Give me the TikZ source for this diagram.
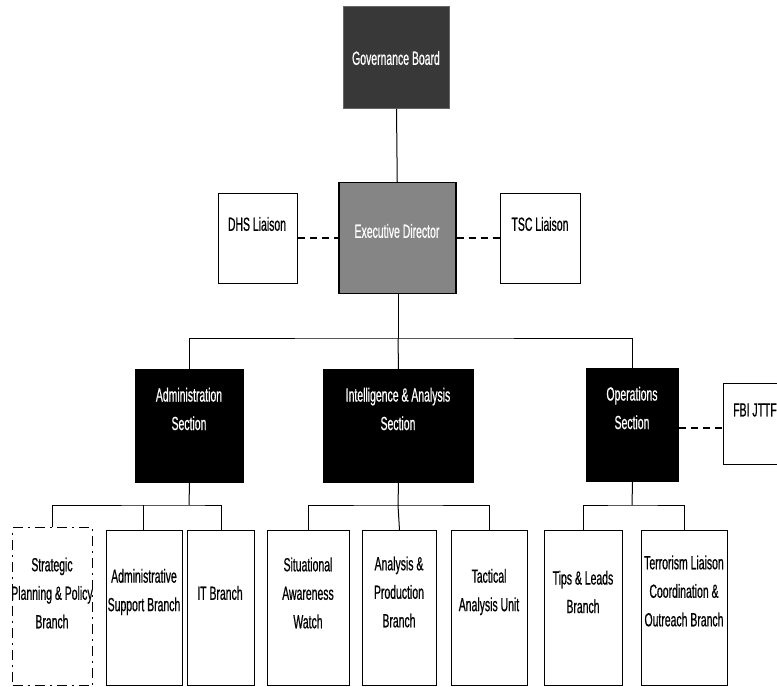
\documentclass[tikz,border=0pt]{standalone}
\usepackage{fontspec}
\setmainfont{Liberation Sans}[FakeStretch=0.55,FakeBold=0.6]
\begin{document}
\begin{tikzpicture}[x=1pt,y=-1pt,
  box/.style={draw=black, line width=1pt, fill=white, inner sep=0pt, anchor=north west},
  dbox/.style={box, dash pattern=on 10pt off 5pt on 2pt off 5pt},
  sect/.style={box, fill=black},
  lbl/.style={font=\fontsize{19}{28.5}\selectfont, align=center, inner sep=0pt},
  wlbl/.style={lbl, text=white},
  conn/.style={line width=1pt},
  dline/.style={line width=1.4pt, dash pattern=on 7pt off 5pt}]
\useasboundingbox (0,0) rectangle (777,687);
\clip (0,0) rectangle (777,687);
% top
\node[box, fill=black!78, draw=black!60, minimum width=106pt, minimum height=102pt] (gb) at (343,6) {};
\node[wlbl] (gbt) at (396,58) {Governance Board};
\node[box, fill=black!48, line width=1.5pt, minimum width=117pt, minimum height=111pt] (ed) at (338,182) {};
\node[wlbl] (edt) at (397,231) {Executive Director};
\node[box, minimum width=79pt, minimum height=90pt] (dhs) at (218,193) {};
\node[lbl] (dhst) at (257,224) {DHS Liaison};
\node[box, minimum width=80pt, minimum height=90pt] (tsc) at (500,193) {};
\node[lbl] (tsct) at (540,224) {TSC Liaison};
% sections
\node[sect, minimum width=108pt, minimum height=113pt] (adm) at (135,369) {};
\node[wlbl] (admt) at (189,409) {Administration\\Section};
\node[sect, minimum width=150pt, minimum height=113pt] (int) at (323,369) {};
\node[wlbl] (intt) at (398,409) {Intelligence \& Analysis\\Section};
\node[sect, minimum width=92pt, minimum height=113pt] (ops) at (586,368) {};
\node[wlbl] (opst) at (632,408) {Operations\\Section};
\node[box, minimum width=70pt, minimum height=81pt] (fbi) at (723,383) {};
\node[lbl] (fbit) at (755,410) {FBI JTTF};
% branches
\node[dbox, minimum width=80pt, minimum height=158pt] (sp) at (12,527) {};
\node[lbl] (spt) at (52,593) {Strategic\\Planning \& Policy\\Branch};
\node[box, minimum width=76pt, minimum height=155pt] (as) at (106,530) {};
\node[lbl] (ast) at (144,592) {Administrative\\Support Branch};
\node[box, minimum width=67pt, minimum height=155pt] (it) at (187,530) {};
\node[lbl] (itt) at (220,593) {IT Branch};
\node[box, minimum width=82pt, minimum height=155pt] (sa) at (267,530) {};
\node[lbl] (sat) at (308,593) {Situational\\Awareness\\Watch};
\node[box, minimum width=74pt, minimum height=155pt] (ap) at (362,530) {};
\node[lbl] (apt) at (399,592) {Analysis \&\\Production\\Branch};
\node[box, minimum width=76pt, minimum height=155pt] (ta) at (451,530) {};
\node[lbl] (tat) at (489,592) {Tactical\\Analysis Unit};
\node[box, minimum width=78pt, minimum height=155pt] (tl) at (544,530) {};
\node[lbl] (tlt) at (583,592) {Tips \& Leads\\Branch};
\node[box, minimum width=86pt, minimum height=155pt] (tr) at (641,530) {};
\node[lbl] (trt) at (684,591) {Terrorism Liaison\\Coordination \&\\Outreach Branch};
% connectors
\draw[conn] (gb.south) -- (ed.north);
\draw[dline] (dhs.east |- 0,238) -- (ed.west |- 0,238);
\draw[dline] (ed.east |- 0,238) -- (tsc.west |- 0,238);
\draw[dline] (ops.east |- 0,428) -- (fbi.west |- 0,428);
\coordinate (b1) at (398,338);
\draw[conn] (ed.south -| b1) -- (b1);
\draw[conn] (adm.north) |- (b1) -| (ops.north);
\draw[conn] (b1) -- (int.north);
% admin children
\coordinate (b2) at (189,505);
\draw[conn] (adm.south) -- (b2);
\draw[conn] (sp.north) |- (b2) -| (it.north);
\draw[conn] (as.north -| 143,0) -- (143,505);
% intel children
\coordinate (b3) at (398,505);
\draw[conn] (int.south) -- (b3);
\draw[conn] (sa.north) |- (b3) -| (ta.north);
\draw[conn] (b3) -- (ap.north);
% ops children
\coordinate (b4) at (632,505);
\draw[conn] (ops.south) -- (b4);
\draw[conn] (tl.north) |- (b4) -| (684,530);
\end{tikzpicture}
\end{document}
